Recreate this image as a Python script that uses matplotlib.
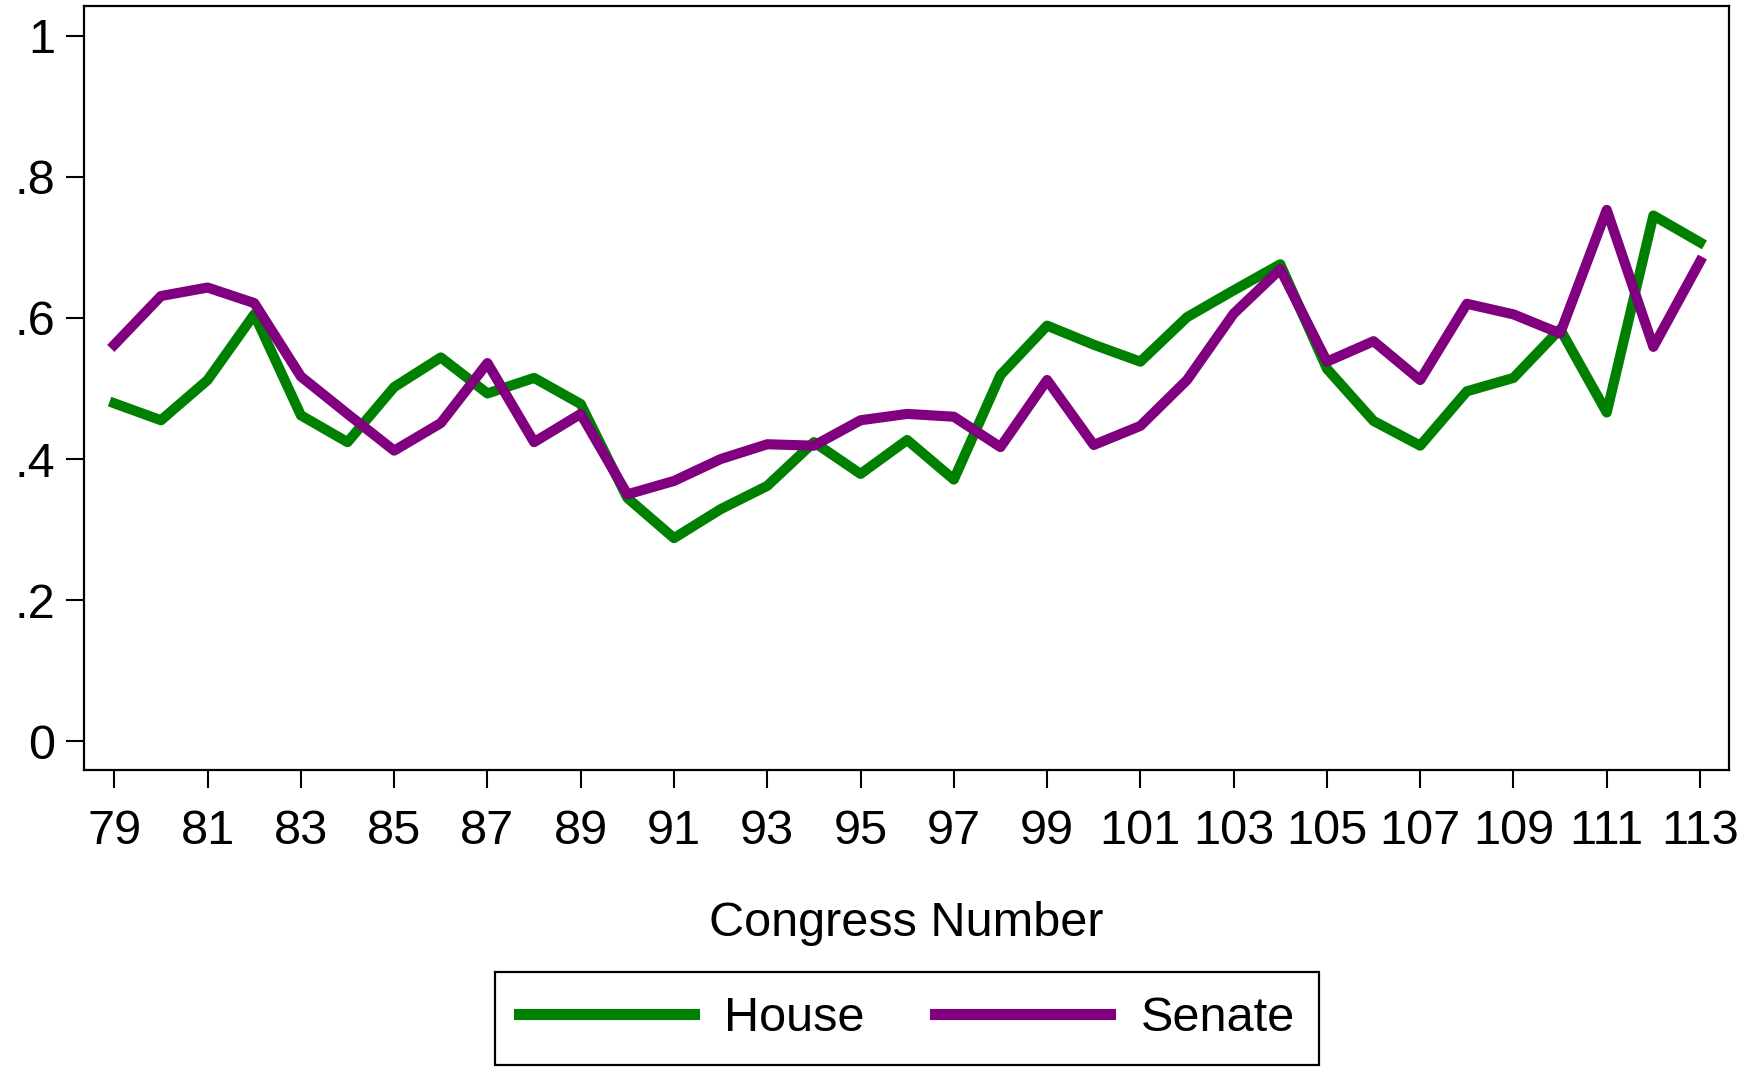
import numpy as np
import matplotlib
matplotlib.use("Agg")
import matplotlib.pyplot as plt

plt.rcParams['font.family'] = ['Liberation Sans', 'DejaVu Sans']

# Congress numbers and chamber series
congress = list(range(79, 114))
house = [0.479, 0.455, 0.512, 0.605, 0.462, 0.424, 0.502, 0.544, 0.493, 0.515,
         0.478, 0.345, 0.288, 0.329, 0.362, 0.424, 0.379, 0.427, 0.371, 0.519,
         0.589, 0.562, 0.538, 0.601, 0.639, 0.676, 0.528, 0.454, 0.419, 0.496,
         0.515, 0.584, 0.466, 0.745, 0.707]
senate = [0.562, 0.631, 0.643, 0.621, 0.517, 0.464, 0.412, 0.451, 0.536, 0.424,
          0.464, 0.350, 0.369, 0.400, 0.421, 0.419, 0.455, 0.464, 0.460, 0.417,
          0.512, 0.420, 0.447, 0.512, 0.606, 0.669, 0.538, 0.567, 0.512, 0.620,
          0.605, 0.578, 0.753, 0.559, 0.680]

xticks = list(range(79, 114, 2))
yticks = [0, 0.2, 0.4, 0.6, 0.8, 1]
ytick_labels = ['0', '.2', '.4', '.6', '.8', '1']

fs = 35

fig = plt.figure(figsize=(17.42, 10.67), dpi=100)
ax = fig.add_axes([0.0485, 0.2784, 0.9440, 0.7164])

ax.plot(congress, house, color='#008000', lw=7.3, label='House')
ax.plot(congress, senate, color='#800080', lw=7.3, label='Senate')

ax.set_xlim(78.36, 113.62)
ax.set_ylim(-0.0404, 1.0425)
ax.set_xticks(xticks)
ax.set_xticklabels([str(x) for x in xticks])
ax.set_yticks(yticks)
ax.set_yticklabels(ytick_labels)
ax.tick_params(axis='both', labelsize=fs, length=13, width=1.5, direction='out')
ax.tick_params(axis='x', pad=15)
ax.tick_params(axis='y', pad=8)
for sp in ax.spines.values():
    sp.set_linewidth(1.6)

ax.set_xlabel('Congress Number', fontsize=fs, labelpad=34)

leg = fig.legend(loc='center', bbox_to_anchor=(0.5207, 0.0455), ncol=2,
                 fontsize=fs, handlelength=3.6, handletextpad=0.62,
                 columnspacing=1.45, borderpad=0.5, fancybox=False,
                 edgecolor='black', framealpha=1)
leg.get_frame().set_linewidth(1.6)
for line in leg.get_lines():
    line.set_linewidth(8)

fig.savefig('out.png', dpi=100)
